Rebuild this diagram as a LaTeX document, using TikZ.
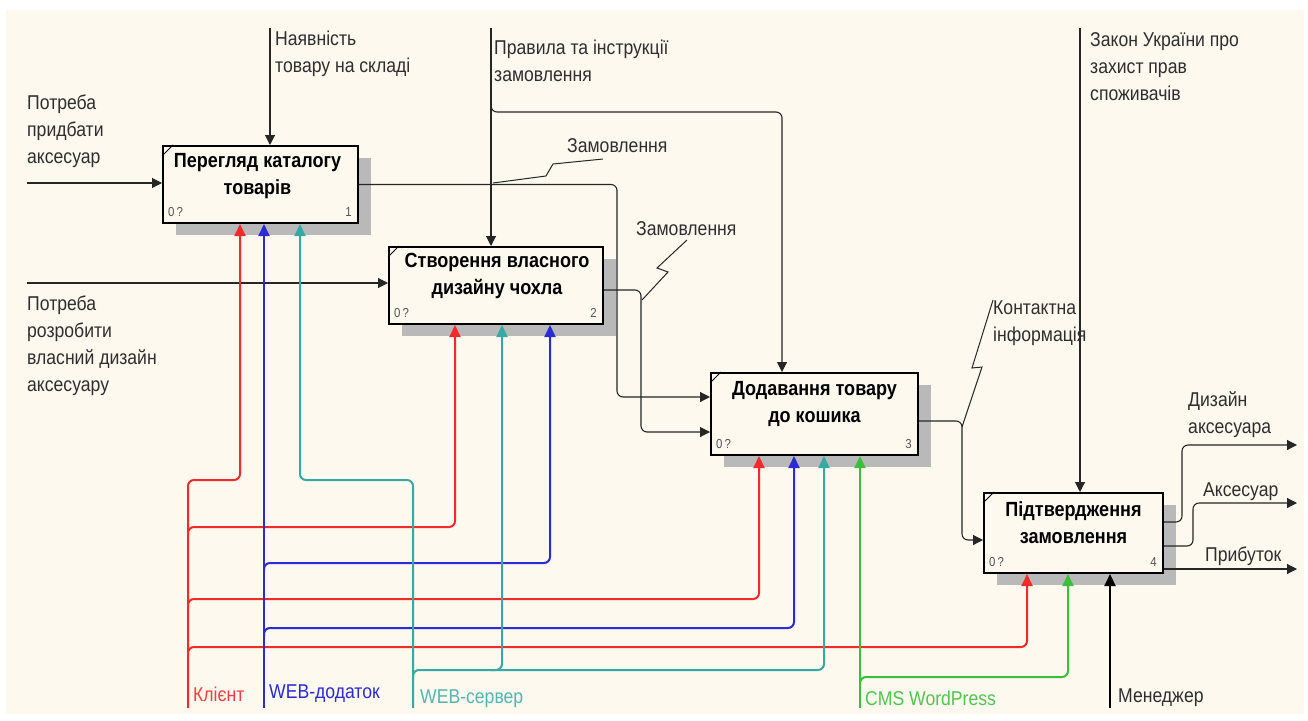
\documentclass[tikz,border=0pt]{standalone}
\usepackage{fontspec}
\setmainfont{Liberation Sans}[FakeStretch=0.88]
\usetikzlibrary{arrows.meta,calc,patterns,shadows}
\definecolor{paper}{HTML}{FDF9EF}
\definecolor{cred}{HTML}{F22A2A}
\definecolor{cblue}{HTML}{2A2AD6}
\definecolor{cteal}{HTML}{36A8A6}
\definecolor{cgreen}{HTML}{3CBE3C}
\definecolor{ink}{HTML}{2E2E2E}

\begin{document}
\begin{tikzpicture}[x=1pt,y=-1pt,
  font=\fontsize{20}{27}\selectfont,
  proc/.style={draw=black, line width=2pt, fill=paper, inner sep=0pt,
    general shadow={shadow xshift=13pt, shadow yshift=-12pt, fill=gray!55}},
  title/.style={align=center, font=\fontsize{20.5}{27}\selectfont\bfseries, inner sep=0pt},
  lbl/.style={align=left, anchor=west, inner sep=0pt, text=ink},
  tag/.style={font=\fontsize{13}{14}\selectfont, text=gray!65!black, inner sep=0pt},
  flow/.style={draw=black!85, line width=1.1pt, rounded corners=6pt},
  flowarr/.style={flow, -{Triangle[length=10pt,width=10pt]}},
  mech/.style={line width=2pt, rounded corners=6pt},
  mecharr/.style={mech, -{Triangle[length=12pt,width=11pt]}},
  zig/.style={draw=black!85, line width=1pt},
]
\useasboundingbox (0,0) rectangle (1308,720);
\fill[white] (0,0) rectangle (1308,720);
\fill[paper] (6,10) rectangle (1304,714);

% activity boxes
\node[proc, minimum width=195pt, minimum height=77pt] (b1) at (260.5,184.5) {};
\node[proc, minimum width=214pt, minimum height=77pt] (b2) at (496,285.5) {};
\node[proc, minimum width=207pt, minimum height=82pt] (b3) at (814.5,414) {};
\node[proc, minimum width=179pt, minimum height=80pt] (b4) at (1073.5,533) {};

\node[title] (b1t) at ($(b1.north)+(-3,31)$) {Перегляд каталогу\\товарів};
\node[title] (b2t) at ($(b2.north)+(1,30)$) {Створення власного\\дизайну чохла};
\node[title] (b3t) at ($(b3.north)+(0,32)$) {Додавання товару\\до кошика};
\node[title] (b4t) at ($(b4.north)+(0,31)$) {Підтвердження\\замовлення};

\foreach \b/\n in {b1/1,b2/2,b3/3,b4/4}{
  \draw[line width=1pt] ($(\b.north west)+(0,11)$) -- ($(\b.north west)+(11,0)$);
  \node[tag, anchor=west] (\b z) at ($(\b.south west)+(6,-12)$) {0\,?};
  \node[tag, anchor=east] (\b n) at ($(\b.south east)+(-7,-12)$) {\n};
}

% inputs
\coordinate (i1) at (27,183);
\coordinate (i2) at (27,283);
\draw[flowarr] (i1) -- (i1 -| b1.west);
\draw[flowarr] (i2) -- (i2 -| b2.west);
\node[lbl] (li1) at (27,131) {Потреба\\придбати\\аксесуар};
\node[lbl] (li2) at (27,346) {Потреба\\розробити\\власний дизайн\\аксесуару};

% controls
\coordinate (k1) at (270,28);
\coordinate (k2) at (491,28);
\coordinate (k2b) at (491,100);
\coordinate (k3) at (1080,28);
\draw[flowarr] (k1) -- (k1 |- b1.north);
\draw[flowarr] (k2) -- (k2 |- b2.north);
\draw[flowarr] (k2b) -- (491,112) -- (782,112) -- (782,0 |- b3.north);
\draw[flowarr] (k3) -- (k3 |- b4.north);
\node[lbl] (lk1) at (275,54) {Наявність\\товару на складі};
\node[lbl] (lk2) at (494,61) {Правила та інструкції\\замовлення};
\node[lbl] (lk3) at (1090,67) {Закон України про\\захист прав\\споживачів};

% flows between activities
\draw[flowarr] (b1.east) -- (617,184.5) -- (617,397) -- (b3.west |- 617,397);
\draw[flowarr] (b2.east |- 0,290) -- (641,290) -- (641,432) -- (b3.west |- 0,432);
\draw[flowarr] (b3.east |- 0,421) -- (962,421) -- (962,540) -- (b4.west |- 0,540);

\coordinate (z1a) at (603,159);
\coordinate (z2a) at (687,240);
\coordinate (z3a) at (993,300);
\draw[zig] (z1a) -- (553,164) -- (546,176) -- (493,183);
\draw[zig] (z2a) -- (657,268) -- (668,272) -- (642,300);
\draw[zig] (z3a) -- (972,368) -- (982,367) -- (962,427);
\node[lbl] (lz1) at (567,146) {Замовлення};
\node[lbl] (lz2) at (636,229) {Замовлення};
\node[lbl] (lz3) at (993,323) {Контактна\\інформація};

% outputs
\coordinate (o1) at (1297,445);
\coordinate (o2) at (1297,503);
\coordinate (o3) at (1297,569);
\draw[flowarr] (b4.east |- 0,522) -- (1182,522) -- (1182,445) -- (o1);
\draw[flowarr] (b4.east |- 0,546) -- (1193,546) -- (1193,503) -- (o2);
\draw[flowarr] (b4.east |- 0,569) -- (o3);
\node[lbl] (lo1) at (1188,415) {Дизайн\\аксесуара};
\node[lbl] (lo2) at (1203,492) {Аксесуар};
\node[lbl] (lo3) at (1205,556) {Прибуток};

% mechanisms
\coordinate (mr) at (188,708);
\coordinate (mb) at (264,708);
\coordinate (mt) at (413,708);
\coordinate (mg) at (860,708);
\coordinate (mk) at (1110,708);

\draw[mecharr, cred] (mr) -- (188,480) -- (240,480) -- (240,0 |- b1.south);
\draw[mecharr, cred] (188,535) -- (188,527) -- (455,527) -- (455,0 |- b2.south);
\draw[mecharr, cred] (188,607) -- (188,599) -- (759,599) -- (759,0 |- b3.south);
\draw[mecharr, cred] (188,655) -- (188,647) -- (1027,647) -- (1027,0 |- b4.south);

\draw[mecharr, cblue] (mb) -- (mb |- b1.south);
\draw[mecharr, cblue] (264,571) -- (264,563) -- (550,563) -- (550,0 |- b2.south);
\draw[mecharr, cblue] (264,636) -- (264,628) -- (794,628) -- (794,0 |- b3.south);

\draw[mecharr, cteal] (mt) -- (413,480) -- (300,480) -- (300,0 |- b1.south);
\draw[mecharr, cteal] (413,678) -- (413,670) -- (824,670) -- (824,0 |- b3.south);
\draw[mecharr, cteal] (490,670) -- (502,670) -- (502,0 |- b2.south);

\draw[mecharr, cgreen] (mg) -- (mg |- b3.south);
\draw[mecharr, cgreen] (860,685) -- (860,677) -- (1068,677) -- (1068,0 |- b4.south);

\draw[mecharr, black] (mk) -- (mk |- b4.south);

\node[lbl, text=cred!90] (lm1) at (193,694) {Клієнт};
\node[lbl, text=cblue] (lm2) at (269,694) {WEB-додаток};
\node[lbl, text=cteal!85] (lm3) at (420,699) {WEB-сервер};
\node[lbl, text=cgreen!90] (lm4) at (865,698) {CMS WordPress};
\node[lbl] (lm5) at (1118,698) {Менеджер};
\end{tikzpicture}
\end{document}
